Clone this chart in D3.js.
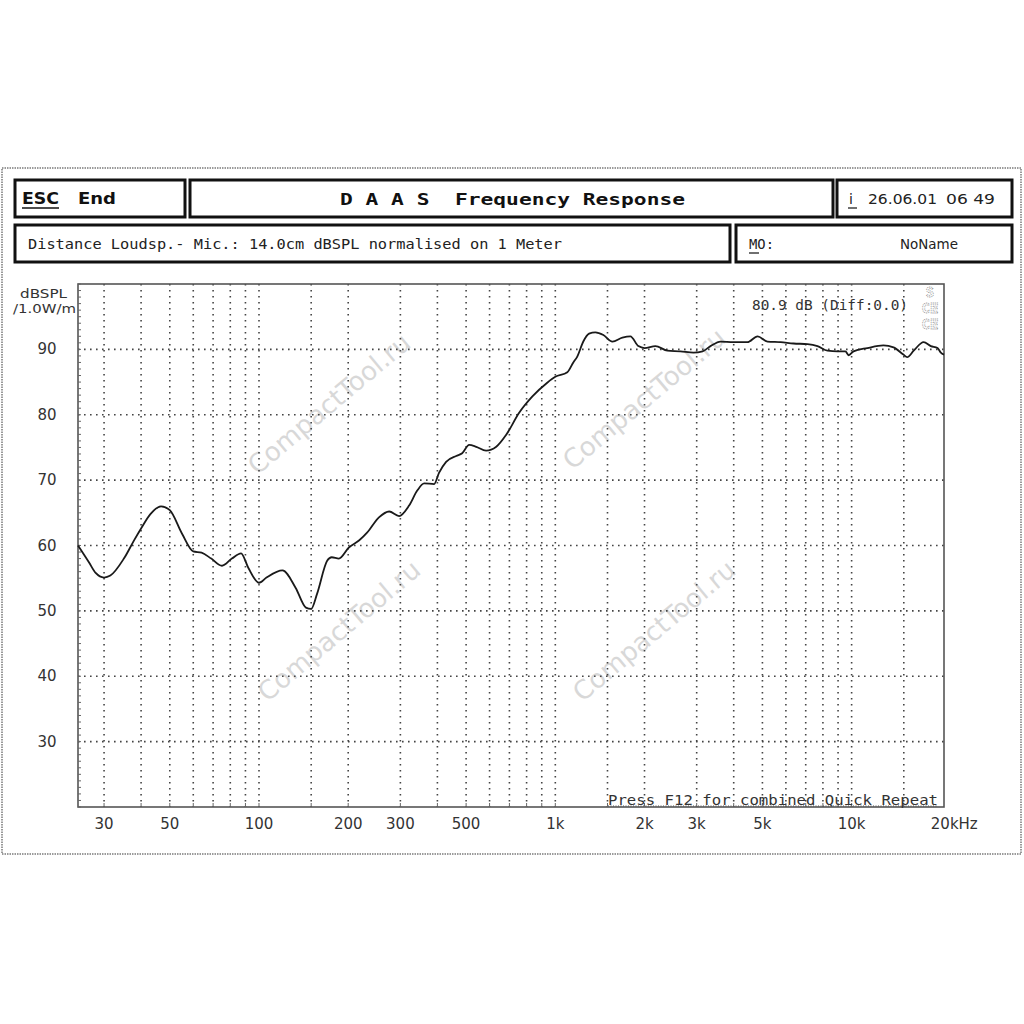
<!DOCTYPE html>
<html><head><meta charset="utf-8">
<script src="https://cdn.jsdelivr.net/npm/d3@7"></script>
<style>body{margin:0;background:#fff}svg{display:block}text{white-space:pre}</style>
</head><body>
<svg id="c" width="1024" height="1024"></svg>
<script>
// ---- data ----
const freqs = [24.5,26.7,28.1,30,31.5,35,38,40,43,46.7,50,55,60,64,69,75,81,87,92,100,106,120,133,144,150,157,170,176,186,201,218,232,254,275,297,321,342,361,390,405,428,463,485,512,541,584,632,682,755,837,939,1000,1098,1150,1186,1243,1300,1365,1453,1558,1684,1792,1907,2000,2177,2390,2644,2925,3140,3340,3610,3990,4450,4815,5200,5760,6370,7100,7670,8290,8960,9530,9770,10150,11300,12800,13850,14950,15400,16200,17500,18500,19500,20000,20500];
const levels = [60.0,57.4,55.8,55.1,55.4,58.0,60.9,62.6,64.8,66.0,65.4,61.8,59.1,58.9,58.0,56.9,58.0,58.8,56.6,54.3,55.1,56.2,53.5,50.5,50.3,52.6,57.7,58.2,58.0,59.7,60.8,62.0,64.3,65.2,64.5,66.1,68.4,69.5,69.4,71.1,72.8,73.7,74.1,75.4,75.1,74.5,75.1,76.9,80.3,82.8,84.9,85.8,86.5,88.0,88.9,91.2,92.4,92.6,92.2,91.2,91.8,92.0,90.5,90.2,90.5,89.8,89.7,89.5,89.7,90.5,91.2,91.1,91.1,92.0,91.2,91.1,90.9,90.8,90.5,89.8,89.7,89.7,89.1,89.7,90.2,90.6,90.3,89.2,88.8,89.8,91.1,90.5,90.2,89.5,89.2];
const yTicks = [30,40,50,60,70,80,90];
const xGrid = [30,40,50,60,70,80,90,100,150,200,300,400,500,600,700,800,900,1000,1500,2000,3000,4000,5000,6000,7000,8000,9000,10000,15000];
const xTickVals = [30,50,100,200,300,500,1000,2000,3000,5000,10000,20000];
const xTickLabels = ["30","50","100","200","300","500","1k","2k","3k","5k","10k","20kHz"];

const svg = d3.select("#c");
const L=78,R=944,T=284,B=807;
const x = d3.scaleLog().domain([24.5,20500]).range([L,R]);
const y = d3.scaleLinear().domain([20,100]).range([B,T]);

// outer frame
svg.append("rect").attr("x",2).attr("y",168).attr("width",1019).attr("height",686)
  .attr("fill","#fff").attr("stroke","#9a9a9a").attr("stroke-width",2).attr("stroke-dasharray","1.5,1");

// header boxes
const boxes=[[15,180,170,37],[190,180,643,37],[837,180,175,37],[15,225,715,37],[736,225,276,37]];
svg.selectAll(".hb").data(boxes).enter().append("rect")
  .attr("x",d=>d[0]).attr("y",d=>d[1]).attr("width",d=>d[2]).attr("height",d=>d[3])
  .attr("fill","#fff").attr("stroke","#111").attr("stroke-width",3);

const mono="'DejaVu Sans Mono', monospace", sans="'DejaVu Sans', sans-serif";
function txt(s,xx,yy,opt={}){
  const t=svg.append("text").attr("x",xx).attr("y",yy).text(s)
    .attr("font-family",opt.ff||sans).attr("font-size",opt.fs||14)
    .attr("font-weight",opt.fw||"normal").attr("fill",opt.fill||"#222")
    .attr("text-anchor",opt.anchor||"start");
  if(opt.tl) t.attr("textLength",opt.tl).attr("lengthAdjust","spacingAndGlyphs");
  return t;
}
txt("ESC",22,204,{fw:"bold",fs:15,tl:37,fill:"#111"});
svg.append("line").attr("x1",22).attr("x2",59).attr("y1",208).attr("y2",208).attr("stroke","#111").attr("stroke-width",1.5);
txt("End",78,204,{fw:"bold",fs:15,tl:38,fill:"#111"});
txt("D A A S  Frequency Response",340,205,{fw:"bold",fs:15,tl:345,fill:"#111",ff:mono});
txt("i",849,204,{fs:14});
svg.append("line").attr("x1",848).attr("x2",857).attr("y1",208).attr("y2",208).attr("stroke","#222").attr("stroke-width",1.3);
txt("26.06.01",868,204,{fs:14,tl:69});
txt("06 49",946,204,{fs:14,tl:49});
txt("Distance Loudsp.- Mic.: 14.0cm dBSPL normalised on 1 Meter",28,249,{ff:mono,fs:14,tl:534});
txt("MO:",749,249,{ff:mono,fs:14,tl:25});
svg.append("line").attr("x1",749).attr("x2",759).attr("y1",253).attr("y2",253).attr("stroke","#222").attr("stroke-width",1.3);
txt("NoName",900,249,{fs:14,tl:58});

// watermarks
const wm=[[330,405],[645,400],[340,632],[655,632]];
wm.forEach(p=>{
  svg.append("text").attr("transform",`translate(${p[0]},${p[1]}) rotate(-40)`)
    .attr("text-anchor","middle").attr("dominant-baseline","middle")
    .attr("font-family",sans).attr("font-size",26).attr("fill","#d8d8d8").text("CompactTool.ru");
});

// grid
const g=svg.append("g");
g.selectAll(".hg").data(yTicks).enter().append("line")
  .attr("x1",L).attr("x2",R).attr("y1",d=>y(d)).attr("y2",d=>y(d))
  .attr("stroke","#444").attr("stroke-width",1.6).attr("stroke-dasharray","1.6,4.4");
g.selectAll(".vg").data(xGrid).enter().append("line")
  .attr("x1",d=>x(d)).attr("x2",d=>x(d)).attr("y1",T).attr("y2",B)
  .attr("stroke","#444").attr("stroke-width",1.6).attr("stroke-dasharray","1.6,4.4");

// plot frame with small ticks
svg.append("rect").attr("x",L).attr("y",T).attr("width",R-L).attr("height",B-T)
  .attr("fill","none").attr("stroke","#555").attr("stroke-width",1.6);
const minorDb=d3.range(20,101,1);
svg.selectAll(".lt").data(minorDb).enter().append("line")
  .attr("x1",L).attr("x2",L+3).attr("y1",d=>y(d)).attr("y2",d=>y(d)).attr("stroke","#666").attr("stroke-width",1);
svg.selectAll(".bt").data(xGrid).enter().append("line")
  .attr("x1",d=>x(d)).attr("x2",d=>x(d)).attr("y1",B).attr("y2",B-4).attr("stroke","#666").attr("stroke-width",1);

// axis labels
svg.selectAll(".yl").data(yTicks).enter().append("text")
  .attr("x",47).attr("y",d=>y(d)+5).attr("text-anchor","middle")
  .attr("font-family",sans).attr("font-size",15).attr("fill","#333").text(d=>d);
txt("dBSPL",20,298,{fs:13,tl:47,fill:"#333"});
txt("/1.0W/m",13,313,{fs:13,tl:63,fill:"#333"});
svg.selectAll(".xl").data(xTickVals).enter().append("text")
  .attr("x",(d,i)=>i===xTickVals.length-1? x(d)-10 : x(d)).attr("y",829)
  .attr("text-anchor",(d,i)=>i===xTickVals.length-1?"start":"middle")
  .attr("font-family",sans).attr("font-size",15).attr("fill","#333")
  .text((d,i)=>xTickLabels[i]);

// in-plot texts
txt("80.9 dB (Diff:0.0)",752,310,{ff:mono,fs:14,tl:156,fill:"#333"});
txt("Press F12 for combined Quick Repeat",608,805,{ff:mono,fs:14,tl:330,fill:"#333"});
svg.append("line").attr("x1",608).attr("x2",938).attr("y1",806).attr("y2",806)
  .attr("stroke","#555").attr("stroke-width",1).attr("stroke-dasharray","1,1.5");
// small dotted glyph marks top right
[["S",297],["CE",313],["CE",329]].forEach(d=>{
  svg.append("text").attr("x",930).attr("y",d[1]).attr("text-anchor","middle")
   .attr("font-family",mono).attr("font-size",14).attr("font-weight","bold")
   .attr("fill","none").attr("stroke","#888").attr("stroke-width",0.8).attr("stroke-dasharray","1,1").text(d[0]);
});

// curve
const pts=freqs.map((f,i)=>[f,levels[i]]);
svg.append("path").datum(pts)
  .attr("d",d3.line().x(d=>x(d[0])).y(d=>y(d[1])).curve(d3.curveMonotoneX))
  .attr("fill","none").attr("stroke","#1a1a1a").attr("stroke-width",1.8);
</script>
</body></html>
